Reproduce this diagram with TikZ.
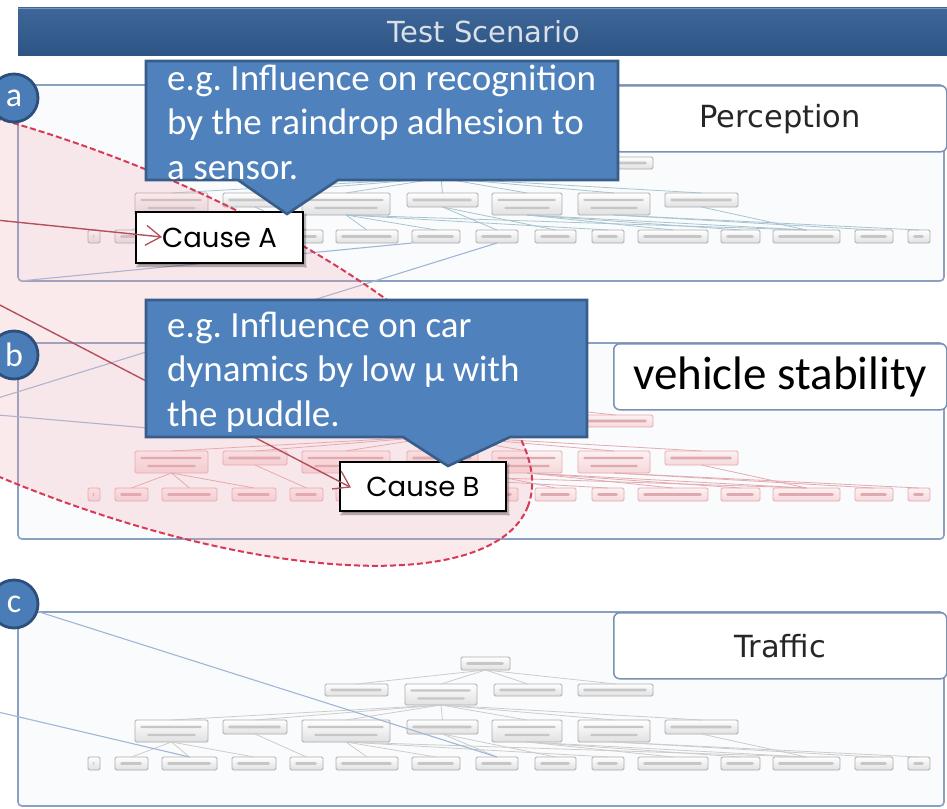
\documentclass[tikz,border=0pt]{standalone}
\usepackage{fontspec}
\setmainfont{Carlito}
\newfontfamily\uifont{DejaVu Sans}
\newfontfamily\causefont{Poppins}
\usetikzlibrary{arrows.meta,shadows.blur}
\frenchspacing

\definecolor{hdrtop}{RGB}{62,102,152}
\definecolor{hdrbot}{RGB}{44,84,132}
\definecolor{hdredge}{RGB}{120,150,190}
\definecolor{hdrtxt}{RGB}{218,224,232}
\definecolor{panelline}{RGB}{138,160,192}
\definecolor{panelfill}{RGB}{250,251,253}
\definecolor{tagline}{RGB}{122,144,176}
\definecolor{notefill}{RGB}{79,129,189}
\definecolor{noteline}{RGB}{56,93,138}
\definecolor{badgefill}{RGB}{74,124,184}
\definecolor{badgeline}{RGB}{44,79,124}
\definecolor{zonefill}{RGB}{242,168,176}
\definecolor{zoneline}{RGB}{214,58,86}
\definecolor{causeline}{RGB}{180,80,92}
\definecolor{linkblue}{RGB}{160,182,214}
\definecolor{pinkedge}{RGB}{228,170,176}
\definecolor{pinktop}{RGB}{253,241,242}
\definecolor{pinkbot}{RGB}{245,216,219}
\definecolor{pinkbar}{RGB}{222,170,176}
\definecolor{tealedge}{RGB}{168,196,206}

\tikzset{
  tnode/.style={inner sep=0pt, outer sep=0pt, rounded corners=1.5pt,
    line width=0.9pt, anchor=north west},
  tgray/.style={tnode, draw=gray!65, top color=white, bottom color=gray!24},
  tpink/.style={tnode, draw=pinkedge, top color=pinktop, bottom color=pinkbot},
  onebar/.style={path picture={\fill[#1]
      ([xshift=5pt,yshift=-1.3pt]path picture bounding box.west) rectangle
      ([xshift=-6pt,yshift=1.3pt]path picture bounding box.east);}},
  twobar/.style={path picture={\fill[#1]
      ([xshift=5pt,yshift=2.8pt]path picture bounding box.west) rectangle
      ([xshift=-6pt,yshift=5.2pt]path picture bounding box.east);
      \fill[#1]
      ([xshift=12pt,yshift=-5.2pt]path picture bounding box.west) rectangle
      ([xshift=-12pt,yshift=-2.8pt]path picture bounding box.east);}},
  egray/.style={draw=gray!40, line width=0.8pt},
  eteal/.style={draw=tealedge, line width=0.8pt},
  epink/.style={draw=pinkedge, line width=0.8pt},
  panelbox/.style={draw=panelline, fill=panelfill, line width=1.6pt, rounded corners=4pt},
  titlebox/.style={draw=tagline, fill=white, line width=1.5pt, rounded corners=6pt,
    anchor=north west, minimum width=333pt, minimum height=66pt, inner sep=0pt},
  notebox/.style={draw=noteline, fill=notefill, line width=2.6pt, line join=miter},
  notetext/.style={text=white, inner sep=0pt, anchor=base west,
    font=\fontsize{37}{44.5}\selectfont},
  causebox/.style={draw=black, fill=white, line width=2pt, inner sep=0pt,
    font=\causefont\fontsize{27.5}{30}\selectfont, text=black,
    blur shadow={shadow xshift=2pt, shadow yshift=-3pt, shadow opacity=45, shadow blur steps=6}},
  causearrow/.style={draw=causeline, line width=1.4pt,
    -{Straight Barb[length=15pt,width=20pt,line width=1.3pt]}},
  bluelink/.style={draw=linkblue, line width=1.1pt},
  badge/.style={circle, draw=badgeline, fill=badgefill, line width=2.8pt,
    minimum size=48pt, inner sep=0pt, text=white,
    font=\fontsize{34}{36}\selectfont},
}

% one fault tree inside a panel whose top edge is at y = #2
\newcommand\drawtree[5]{%
  \begin{scope}[shift={(0,#2)}]
    \node[#3, onebar=#4, minimum width=49pt, minimum height=13pt] (#1a) at (461,45) {};
    \foreach \i/\xa/\xb/\nl in {1/325/388/1, 2/405/477/2, 3/494/562/1, 4/578/653/1}{
      \pgfmathsetmacro\w{\xb-\xa}
      \ifnum\nl=1
        \node[#3, onebar=#4, minimum width=\w pt, minimum height=12pt] (#1b\i) at (\xa,72) {};
      \else
        \node[#3, twobar=#4, minimum width=\w pt, minimum height=21pt] (#1b\i) at (\xa,72) {};
      \fi}
    \foreach \i/\xa/\xb/\nl in {1/135/208/2, 2/223/287/1, 3/302/390/2, 4/407/478/1,
                               5/492/562/2, 6/578/650/2, 7/665/738/1}{
      \pgfmathsetmacro\w{\xb-\xa}
      \ifnum\nl=1
        \node[#3, onebar=#4, minimum width=\w pt, minimum height=14pt] (#1c\i) at (\xa,108) {};
      \else
        \node[#3, twobar=#4, minimum width=\w pt, minimum height=22pt] (#1c\i) at (\xa,108) {};
      \fi}
    \foreach \i/\xa/\xb in {1/88/100, 2/115/148, 3/162/217, 4/232/276, 5/290/323,
                            6/336/398, 7/412/460, 8/476/518, 9/535/576, 10/592/624,
                            11/638/708, 12/721/760, 13/773/840, 14/855/893, 15/908/930}{
      \pgfmathsetmacro\w{\xb-\xa}
      \node[#3, onebar=#4, minimum width=\w pt, minimum height=13pt] (#1d\i) at (\xa,145) {};}
    \foreach \j in {1,...,4} \draw[#5] (#1a.south) -- (#1b\j.north);
    \foreach \j in {1,...,7} \draw[#5] (#1b2.south) -- (#1c\j.north);
    \foreach \c/\d in {1/2,1/3,1/4,2/5,3/6,3/7,3/10,3/13,4/8,4/9,5/11,5/12,5/13,
                       6/14,6/15,7/13}
      \draw[#5] (#1c\c.south) -- (#1d\d.north);
  \end{scope}}

\begin{document}
\begin{tikzpicture}[x=1pt,y=-1pt]
  \useasboundingbox (0,0) rectangle (947,808);
  \clip (0,0) rectangle (947,808);
  \fill[white] (0,0) rectangle (947,808);

  % header bar
  \shade[top color=hdrtop, bottom color=hdrbot] (18,8) rectangle (960,56);
  \draw[hdredge, line width=1.2pt] (18,8.6) -- (960,8.6);
  \node[font=\uifont\fontsize{29}{32}\selectfont, text=hdrtxt] (header) at (484,32) {Test Scenario};

  % the three panels
  \draw[panelbox] (18,85) rectangle (944,281);
  \draw[panelbox] (18,343) rectangle (944,539);
  \draw[panelbox] (18,612) rectangle (944,806);

  % panel titles
  \node[titlebox, font=\uifont\fontsize{30.5}{32}\selectfont, text=black!85] (tagP) at (613,85) {Perception};
  \node[titlebox, font=\fontsize{47}{50}\selectfont, text=black] (tagV) at (613,343) {vehicle stability};
  \node[titlebox, font=\uifont\fontsize{30.5}{32}\selectfont, text=black!85] (tagT) at (613,612) {Traffic};

  % fault trees
  \drawtree{p1}{85}{tgray}{gray!45}{eteal}
  \drawtree{p2}{343}{tpink}{pinkbar}{epink}
  \drawtree{p3}{612}{tgray}{gray!45}{egray}

  % links entering from the left
  \coordinate (blA) at (20,281);
  \coordinate (blB) at (-2,398);
  \coordinate (blC) at (-2,415);
  \coordinate (blCend) at (240,436);
  \coordinate (blE) at (-2,712);
  \draw[bluelink] (blA) -- (p1d7.south west);
  \draw[bluelink] (blB) -- (p1d8.south);
  \draw[bluelink] (blC) -- (blCend);
  \draw[bluelink] (blE) -- (p3d3.north);

  % affected zone
  \fill[zonefill, opacity=0.24, shift={(77,325)}, rotate=-22] (0,0) ellipse [x radius=486pt, y radius=170pt];
  \draw[zoneline, line width=2pt, dash pattern=on 6pt off 3pt, shift={(77,325)}, rotate=-22]
    (0,0) ellipse [x radius=486pt, y radius=170pt];

  % cause B and its note
  \node[causebox, minimum width=166pt, minimum height=49pt] (causeB) at (423,486.5) {Cause B};
  \coordinate (srcB) at (-4,303);
  \draw[causearrow] (srcB) -- ([xshift=12pt,yshift=-1pt]causeB.west);
  \draw[notebox] (146,300) -- (587,300) -- (587,437) -- (510,437) -- (448,466)
    -- (403,437) -- (146,437) -- cycle;
  \node[notetext] (noteB) at (167,337)
    {\parbox[t]{420pt}{\raggedright e.g. Influence on car\\dynamics by low µ with\\the puddle.}};

  % cause A and its note
  \node[causebox, minimum width=167pt, minimum height=51pt] (causeA) at (219.5,237.5) {Cause A};
  \coordinate (srcA) at (-4,220);
  \draw[causearrow] (srcA) -- ([xshift=27pt,yshift=0.5pt]causeA.west);
  \draw[notebox] (146,61) -- (618,61) -- (618,180) -- (338,180) -- (287,214)
    -- (238,180) -- (146,180) -- cycle;
  \node[notetext] (noteA) at (167,90)
    {\parbox[t]{450pt}{\raggedright e.g. Influence on recognition\\by the raindrop adhesion to\\a sensor.}};

  % panel badges
  \node[badge] (badgeA) at (14,98) {a};
  \node[badge] (badgeB) at (14,355) {b};
  \node[badge] (badgeC) at (14,604) {c};
  \draw[bluelink] (badgeC) -- (p3d8.north);
\end{tikzpicture}
\end{document}
